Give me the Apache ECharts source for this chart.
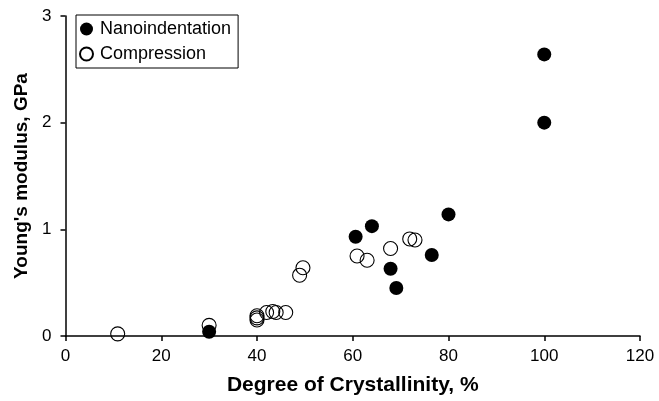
<!DOCTYPE html>
<html>
<head>
<meta charset="utf-8">
<script src="https://cdn.jsdelivr.net/npm/echarts@6/dist/echarts.min.js"></script>
<style>
  html, body { margin: 0; padding: 0; background: #fff; }
  #chart { width: 659px; height: 401px; }
</style>
</head>
<body>
<div id="chart"></div>
<script>
// Young's modulus vs degree of crystallinity
const seriesNames = ['Nanoindentation', 'Compression'];

// [crystallinity %, modulus GPa]
const nanoindentation = [
  [30, 0.04], [60.6, 0.93], [64, 1.03], [67.9, 0.63], [69.1, 0.45],
  [76.5, 0.76], [80, 1.14], [100, 2.0], [100, 2.64]
];
const compression = [
  [10.9, 0.02], [30, 0.1], [40, 0.15], [40, 0.17], [40, 0.19],
  [42, 0.22], [43.3, 0.23], [44, 0.22], [46, 0.22],
  [48.9, 0.57], [49.6, 0.64], [60.9, 0.75], [63, 0.71],
  [67.9, 0.82], [71.9, 0.91], [73, 0.9]
];

const xTicks = { min: 0, max: 120, interval: 20 };
const yTicks = { min: 0, max: 3, interval: 1 };

const font = 'Liberation Sans, Arial, sans-serif';
const chart = echarts.init(document.getElementById('chart'), null, { renderer: 'canvas' });

chart.setOption({
  animation: false,
  backgroundColor: '#fff',
  grid: { left: 65.5, right: 19, top: 16, bottom: 62, containLabel: false },
  legend: {
    data: seriesNames,
    orient: 'vertical',
    left: 76,
    top: 15,
    itemWidth: 17,
    itemHeight: 13,
    itemGap: 7,
    padding: [5, 7, 5, 3],
    borderColor: '#000',
    borderWidth: 1,
    borderRadius: 0,
    icon: 'circle',
    textStyle: { fontFamily: font, fontSize: 18, color: '#000' }
  },
  xAxis: {
    type: 'value',
    min: xTicks.min, max: xTicks.max, interval: xTicks.interval,
    name: 'Degree of Crystallinity, %',
    nameLocation: 'middle',
    nameGap: 39,
    nameTextStyle: { fontFamily: font, fontSize: 21, fontWeight: 'bold', color: '#000' },
    axisLine: { lineStyle: { color: '#000', width: 1.5 } },
    axisTick: { length: 5, lineStyle: { color: '#000', width: 1.5 } },
    axisLabel: { fontFamily: font, fontSize: 17, color: '#000', margin: 12 },
    splitLine: { show: false }
  },
  yAxis: {
    type: 'value',
    min: yTicks.min, max: yTicks.max, interval: yTicks.interval,
    name: "Young's modulus, GPa",
    nameLocation: 'middle',
    nameGap: 33,
    nameTextStyle: { fontFamily: font, fontSize: 19, fontWeight: 'bold', color: '#000' },
    axisLine: { show: true, lineStyle: { color: '#000', width: 1.5 } },
    axisTick: { show: true, length: 5, lineStyle: { color: '#000', width: 1.5 } },
    axisLabel: { fontFamily: font, fontSize: 17, color: '#000', margin: 14 },
    splitLine: { show: false }
  },
  series: [
    {
      name: 'Compression',
      type: 'scatter',
      data: compression,
      symbol: 'circle',
      symbolSize: 14,
      itemStyle: { color: 'rgba(255,255,255,0)', borderColor: '#000', borderWidth: 1.1, opacity: 1 },
      emphasis: { disabled: true },
      z: 2
    },
    {
      name: 'Nanoindentation',
      type: 'scatter',
      data: nanoindentation,
      symbol: 'circle',
      symbolSize: 14,
      itemStyle: { color: '#000', opacity: 1 },
      emphasis: { disabled: true },
      z: 3
    }
  ]
});
</script>
</body>
</html>
